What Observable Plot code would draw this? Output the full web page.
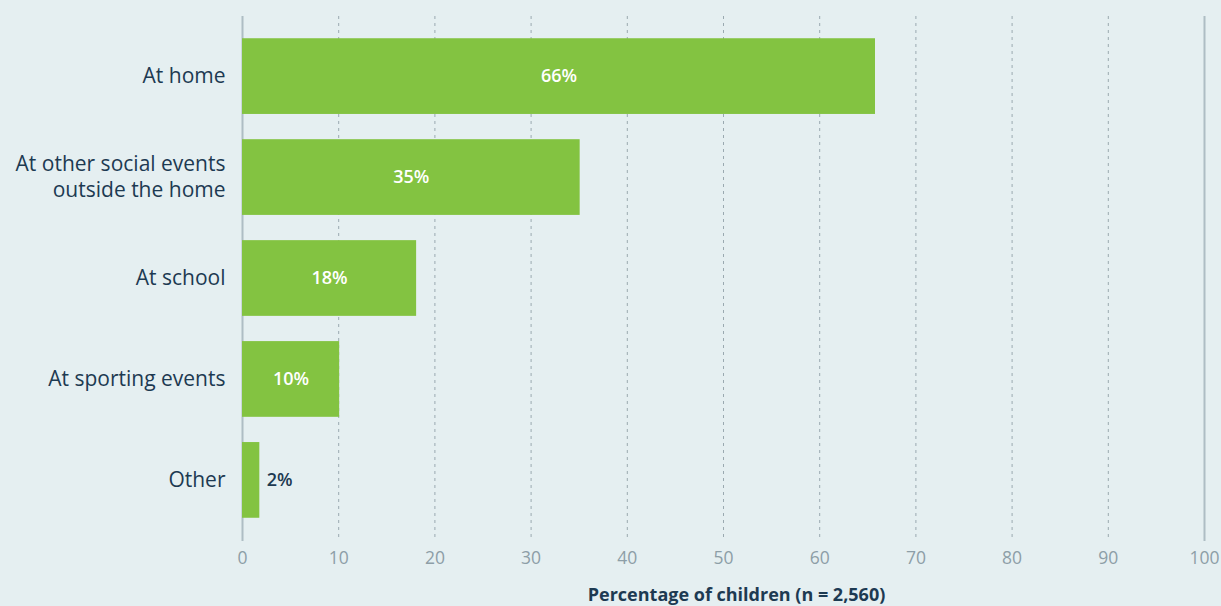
<!DOCTYPE html>
<html>
<head>
<meta charset="utf-8">
<script src="https://cdn.jsdelivr.net/npm/d3@7"></script>
<script src="https://cdn.jsdelivr.net/npm/@observablehq/plot@0.6"></script>
<style>
  html, body { margin: 0; padding: 0; background: #e5eff1; }
  #chart { width: 1221px; height: 606px; }
</style>
</head>
<body>
<div id="chart"></div>
<script>
const categories = ["At home", "At other social events\noutside the home", "At school", "At sporting events", "Other"];
const values = [65.8, 35.1, 18.1, 10.1, 1.8];
const valueLabels = ["66%", "35%", "18%", "10%", "2%"];
const xTicks = [0, 10, 20, 30, 40, 50, 60, 70, 80, 90, 100];
const dashedTicks = [10, 20, 30, 40, 50, 60, 70, 80, 90];
const solidTicks = [0, 100];
const xLabel = "Percentage of children (n = 2,560)";

const data = categories.map((c, i) => ({category: c, value: values[i], label: valueLabels[i]}));
const inside = data.filter(d => d.value >= 5);
const outside = data.filter(d => d.value < 5);

const chart = Plot.plot({
  width: 1221,
  height: 606,
  marginLeft: 242,
  marginRight: 17,
  marginTop: 13,
  marginBottom: 63,
  style: {background: "#e5eff1", fontFamily: "Open Sans, sans-serif"},
  x: {domain: [0, 100]},
  y: {domain: categories, padding: 0.25, round: false},
  marks: [
    Plot.ruleX(dashedTicks, {stroke: "#9aa9b0", strokeWidth: 1, strokeDasharray: "3,4", insetTop: 3, insetBottom: 2}),
    Plot.ruleX(solidTicks, {stroke: "#aebdc4", strokeWidth: 2, insetTop: 3, insetBottom: 2}),
    Plot.barX(data, {x: "value", y: "category", fill: "#83c341"}),
    Plot.text(inside, {x: d => d.value / 2, y: "category", text: "label", fill: "white", fontWeight: 600, fontSize: 18}),
    Plot.text(outside, {x: "value", y: "category", text: "label", fill: "#1d3a52", fontWeight: 600, fontSize: 18, textAnchor: "start", dx: 7}),
    Plot.axisY({tickSize: 0, tickPadding: 17, fontSize: 21, color: "#1d3a52", label: null, lineHeight: 1.24, dy: -2}),
    Plot.axisX(xTicks, {tickSize: 0, tickPadding: 8, fontSize: 17.5, color: "#8d9ea7", label: xLabel, labelAnchor: "center", labelOffset: 57, labelArrow: "none"}),
  ]
});
document.getElementById("chart").appendChild(chart);
chart.querySelectorAll("[aria-label='x-axis label'] text, [aria-label='x-axis label']").forEach(el => {
  el.setAttribute("font-weight", "bold");
  el.setAttribute("font-size", "18");
  el.setAttribute("fill", "#1d3a52");
});
chart.querySelectorAll("[aria-label='x-axis label'] text").forEach(el => el.setAttribute("dx", "13"));
</script>
</body>
</html>
